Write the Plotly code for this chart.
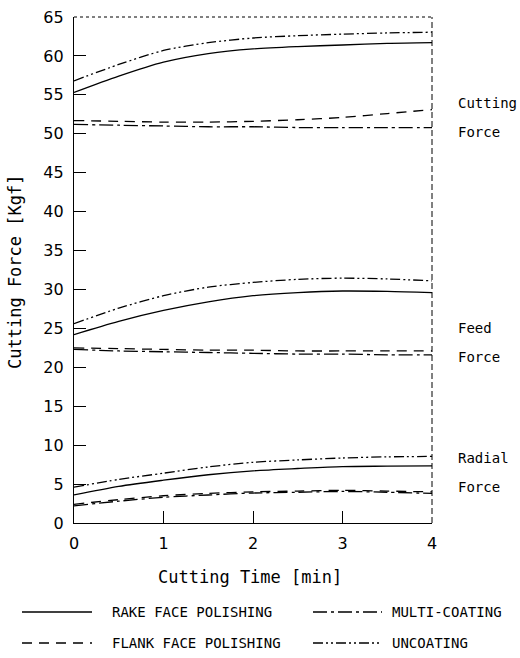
import plotly.graph_objects as go

# ---------------- data ----------------
time_min = [0, 0.5, 1, 1.5, 2, 2.5, 3, 3.5, 4]

cut_rake = [55.3, 57.4, 59.2, 60.3, 60.9, 61.2, 61.4, 61.6, 61.7]
cut_flank = [51.7, 51.6, 51.5, 51.5, 51.6, 51.8, 52.1, 52.6, 53.1]
cut_multi = [51.2, 51.1, 51.0, 50.9, 50.9, 50.8, 50.8, 50.8, 50.8]
cut_uncoat = [56.8, 58.9, 60.7, 61.7, 62.3, 62.6, 62.8, 62.95, 63.05]

feed_rake = [24.2, 25.9, 27.3, 28.4, 29.2, 29.6, 29.8, 29.75, 29.6]
feed_flank = [22.5, 22.4, 22.3, 22.2, 22.2, 22.1, 22.1, 22.1, 22.1]
feed_multi = [22.3, 22.1, 22.0, 21.9, 21.8, 21.7, 21.7, 21.6, 21.6]
feed_uncoat = [25.6, 27.6, 29.2, 30.3, 30.9, 31.3, 31.45, 31.35, 31.1]

rad_rake = [3.6, 4.7, 5.5, 6.2, 6.7, 7.0, 7.25, 7.3, 7.35]
rad_flank = [2.4, 3.0, 3.5, 3.8, 4.0, 4.1, 4.2, 4.1, 4.0]
rad_multi = [2.2, 2.8, 3.3, 3.6, 3.85, 3.95, 4.05, 3.95, 3.8]
rad_uncoat = [4.6, 5.6, 6.4, 7.2, 7.8, 8.1, 8.35, 8.5, 8.55]

series_names = ["RAKE FACE POLISHING", "FLANK FACE POLISHING", "MULTI-COATING", "UNCOATING"]
x_ticks = [0, 1, 2, 3, 4]
y_ticks = list(range(0, 66, 5))
group_labels = [("Cutting", 53.9), ("Force", 50.2), ("Feed", 25.0), ("Force", 21.3),
                ("Radial", 8.4), ("Force", 4.6)]

# ---------------- styles ----------------
dashes = {
    "RAKE FACE POLISHING": "solid",
    "FLANK FACE POLISHING": "10px,7px",
    "MULTI-COATING": "14px,4px,3px,4px",
    "UNCOATING": "10px,3px,2px,3px,2px,3px",
}
LW = 1.3
mono = "DejaVu Sans Mono"

fig = go.Figure()
groups = [
    (cut_rake, cut_flank, cut_multi, cut_uncoat),
    (feed_rake, feed_flank, feed_multi, feed_uncoat),
    (rad_rake, rad_flank, rad_multi, rad_uncoat),
]
for g in groups:
    for name, ys in zip(series_names, g):
        fig.add_trace(go.Scatter(
            x=time_min, y=ys, mode="lines", name=name, showlegend=False,
            line=dict(color="black", width=LW, dash=dashes[name], shape="spline", smoothing=0.8),
        ))

W, H = 520, 658
L, R, T, B = 74, 432, 17, 523


def px(xp):
    return (xp - L) / (R - L)


def py(yp):
    return (B - yp) / (B - T)


shapes = [
    dict(type="line", xref="paper", yref="paper", x0=0, x1=1, y0=1, y1=1,
         line=dict(color="black", width=1, dash="dot")),
    dict(type="line", xref="paper", yref="paper", x0=1, x1=1, y0=0, y1=1,
         line=dict(color="black", width=1, dash="6px,3px")),
]

annotations = []
# right side group labels
for txt, yv in group_labels:
    annotations.append(dict(x=px(456), xref="paper", y=yv, yref="y", text=txt, showarrow=False,
                            xanchor="left", yanchor="middle", font=dict(family=mono, size=14, color="black")))

# axis titles
annotations.append(dict(x=px(15), xref="paper", y=py(272), yref="paper", text="Cutting Force [Kgf]",
                        textangle=-90, showarrow=False, xanchor="center", yanchor="middle",
                        font=dict(family=mono, size=17, color="black")))
annotations.append(dict(x=px(250), xref="paper", y=py(577), yref="paper", text="Cutting Time [min]",
                        showarrow=False, xanchor="center", yanchor="middle",
                        font=dict(family=mono, size=17, color="black")))

# custom legend
leg_pos = [
    ("RAKE FACE POLISHING", 22, 92, 110, 612),
    ("FLANK FACE POLISHING", 22, 92, 110, 643),
    ("MULTI-COATING", 313, 382, 390, 612),
    ("UNCOATING", 313, 382, 390, 643),
]
for name, s0, s1, tx, yy in leg_pos:
    shapes.append(dict(type="line", xref="paper", yref="paper", x0=px(s0), x1=px(s1), y0=py(yy), y1=py(yy),
                       line=dict(color="black", width=LW, dash=dashes[name])))
    annotations.append(dict(x=px(tx), xref="paper", y=py(yy), yref="paper", text=name, showarrow=False,
                            xanchor="left", yanchor="middle", font=dict(family=mono, size=14, color="black")))

fig.update_layout(
    width=W, height=H,
    margin=dict(l=L, r=W - R, t=T, b=H - B),
    paper_bgcolor="white", plot_bgcolor="white",
    showlegend=False,
    shapes=shapes, annotations=annotations,
    xaxis=dict(range=[0, 4], tickvals=x_ticks, ticktext=[str(v) for v in x_ticks],
               ticks="inside", ticklen=12, tickcolor="black", tickwidth=1.3,
               showline=True, linecolor="black", linewidth=1.3, showgrid=False, zeroline=False,
               automargin=False,
               tickfont=dict(family="DejaVu Sans", size=16, color="black"), ticklabelstandoff=6),
    yaxis=dict(range=[0, 65], tickvals=y_ticks, ticktext=[str(v) for v in y_ticks],
               ticks="inside", ticklen=12, tickcolor="black", tickwidth=1.3,
               showline=True, linecolor="black", linewidth=1.3, showgrid=False, zeroline=False,
               automargin=False,
               tickfont=dict(family="DejaVu Sans", size=16, color="black"), ticklabelstandoff=6),
)

fig.write_html("out.html", config={"displayModeBar": False},
               post_script="document.body.style.margin='0';document.body.style.overflow='hidden';")
